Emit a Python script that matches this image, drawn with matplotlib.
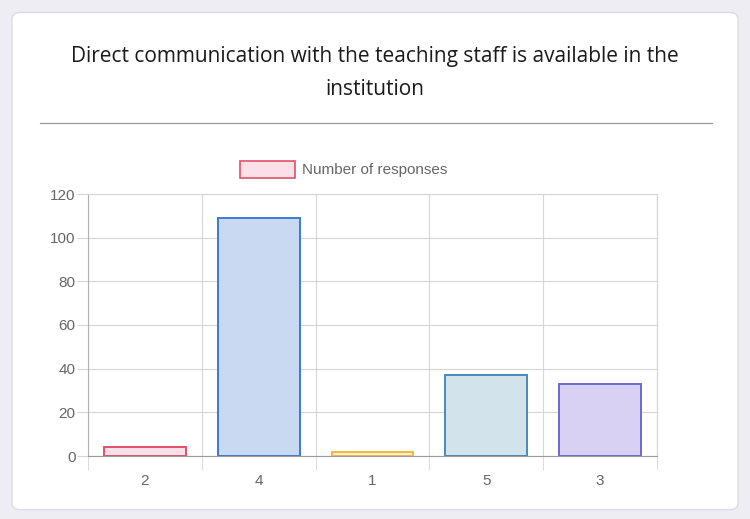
import matplotlib.pyplot as plt
import matplotlib as mpl
from matplotlib.patches import FancyBboxPatch, Patch
from matplotlib.lines import Line2D
import numpy as np

mpl.rcParams.update({'font.family': ['Liberation Sans', 'DejaVu Sans']})

# data
categories = ['2', '4', '1', '5', '3']
responses = [4, 109, 2, 37, 33]
title = 'Direct communication with the teaching staff is available in the\ninstitution'
legend_label = 'Number of responses'

edge_colors = ['#e0506a', '#3b7bd4', '#f2b544', '#4a89b8', '#6a6ad0']
fill_colors = ['#fbe1e7', '#c9d9f2', '#fdf0d4', '#d3e3eb', '#d9d1f3']

fig = plt.figure(figsize=(7.5, 5.19), dpi=100)
fig.patch.set_facecolor('#efedf4')

# card background
card = FancyBboxPatch((0.016, 0.018), 0.968, 0.958, boxstyle='round,pad=0,rounding_size=0.012',
                      transform=fig.transFigure, facecolor='white', edgecolor='#dcdae4',
                      linewidth=1.0, zorder=-10)
fig.patches.append(card)

fig.text(0.5, 1 - 73/519, title, ha='center', va='center', fontsize=15,
         family=['Open Sans', 'DejaVu Sans'], color='#1a1a1a', linespacing=1.75)
fig.add_artist(Line2D([40/750, 712/750], [1 - 123/519] * 2, transform=fig.transFigure,
                      color='#9a9a9a', linewidth=0.9))

ax = fig.add_axes([88/750, 1 - 456/519, 569/750, 262/519], zorder=5)
x = np.arange(len(categories))
ax.bar(x, responses, width=0.72, color=fill_colors, edgecolor=edge_colors, linewidth=1.4, zorder=3)

ax.set_xlim(-0.5, len(categories) - 0.5)
ax.set_ylim(0, 120)
ax.set_yticks(np.arange(0, 121, 20))
ax.set_xticks(x)
ax.set_xticklabels(categories)
ax.set_xticks(np.arange(-0.5, len(categories)), minor=True)

ax.grid(axis='y', color='#d6d6d6', linewidth=0.8, zorder=0)
ax.grid(axis='x', which='minor', color='#d6d6d6', linewidth=0.8, zorder=0)
ax.tick_params(axis='y', length=8, color='#d6d6d6', labelcolor='#666666', labelsize=11, pad=1)
ax.tick_params(axis='x', which='major', length=0, labelcolor='#666666', labelsize=11, pad=13)
ax.tick_params(axis='x', which='minor', length=10, color='#d6d6d6')

for side in ['top', 'right']:
    ax.spines[side].set_color('#d6d6d6')
    ax.spines[side].set_linewidth(0.8)
ax.spines['left'].set_color('#b0b0b0')
ax.spines['bottom'].set_color('#9a9a9a')

handle = Patch(facecolor=fill_colors[0], edgecolor=edge_colors[0], linewidth=1.2)
ax.legend([handle], [legend_label], loc='lower center', bbox_to_anchor=(0.449, 1.01),
          frameon=False, fontsize=11, handlelength=3.6, handleheight=1.3,
          handletextpad=0.45, labelcolor='#666666')

plt.savefig('out.png', dpi=100, facecolor=fig.get_facecolor())
